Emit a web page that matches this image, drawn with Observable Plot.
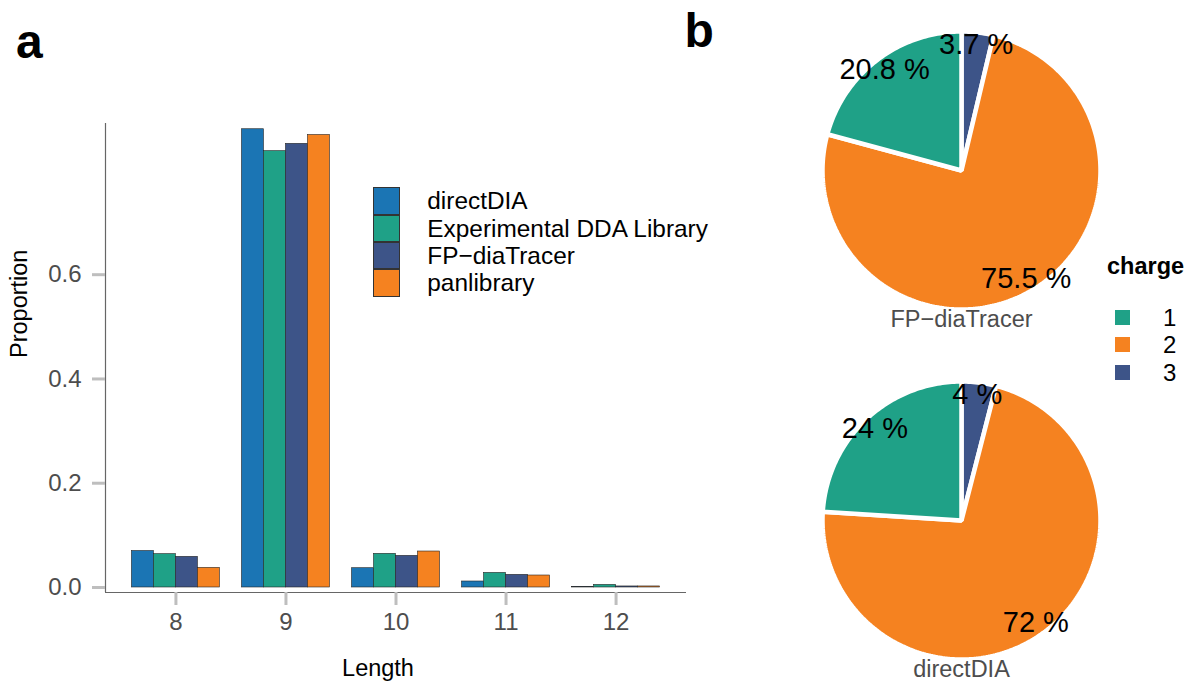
<!DOCTYPE html>
<html>
<head>
<meta charset="utf-8">
<script src="https://cdn.jsdelivr.net/npm/d3@7"></script>
<script src="https://cdn.jsdelivr.net/npm/@observablehq/plot@0.6"></script>
<style>
  html, body { margin: 0; padding: 0; background: #fff; }
  body { font-family: "Liberation Sans", Arial, sans-serif; }
  #root { position: relative; width: 1188px; height: 687px; overflow: hidden; background: #fff; }
  .abs { position: absolute; }
  .panel { font-weight: bold; font-size: 48px; line-height: 48px; color: #000; }
  .mleg-row { display: flex; align-items: center; height: 27.4px; }
  .mleg-key { width: 27px; height: 27.4px; box-sizing: border-box; border: 0.7px solid #333; }
  .mleg-text { font-size: 24.4px; line-height: 27.4px; margin-left: 27px; color: #000; white-space: nowrap; }
  .cleg-title { font-weight: bold; font-size: 23.5px; line-height: 27px; color: #000; }
  .cleg-row { display: flex; align-items: center; height: 27.6px; }
  .cleg-key { width: 15px; height: 15px; margin-left: 8px; }
  .cleg-text { font-size: 24px; line-height: 27.6px; margin-left: 33px; color: #000; }
</style>
</head>
<body>
<div id="root"></div>
<script>
// ---------- data ----------
const lengths = [8, 9, 10, 11, 12];
const methods = ["directDIA", "Experimental DDA Library", "FP−diaTracer", "panlibrary"];
const methodColors = ["#1b75b4", "#1fa187", "#3d5488", "#f58220"];
const directDIA = [0.070, 0.879, 0.037, 0.0115, 0.0013];
const experimentalDDA = [0.064, 0.837, 0.0646, 0.028, 0.005];
const fpDiaTracer = [0.0588, 0.851, 0.0607, 0.0243, 0.002];
const panlibrary = [0.0377, 0.868, 0.069, 0.023, 0.002];
const yTicks = [0, 0.2, 0.4, 0.6];

const charges = ["1", "2", "3"];
const chargeColors = ["#1fa187", "#f58220", "#3d5488"];
const fpCharge = [20.8, 75.5, 3.7];
const directCharge = [24, 72, 4];
const pieNames = ["FP−diaTracer", "directDIA"];

// ---------- build ----------
const root = document.getElementById("root");
const font = "'Liberation Sans', Arial, sans-serif";
const series = [directDIA, experimentalDDA, fpDiaTracer, panlibrary];
const rows = methods.flatMap((m, i) => series[i].map((v, j) => ({len: lengths[j], method: m, value: v})));
const dodge = d3.scaleBand(methods, [-0.4, 0.4]);
const xDomain = [7.36, 12.64];
const yDomain = [-0.0096, 0.89];

const barPlot = Plot.plot({
  width: 700, height: 687,
  marginLeft: 105, marginRight: 14, marginTop: 123, marginBottom: 95,
  style: {fontFamily: font, fontSize: "24px", background: "transparent", overflow: "visible"},
  x: {domain: xDomain},
  y: {domain: yDomain},
  color: {domain: methods, range: methodColors},
  marks: [
    Plot.rectY(rows, {
      x1: d => d.len + dodge(d.method),
      x2: d => d.len + dodge(d.method) + dodge.bandwidth(),
      y1: 0, y2: "value", fill: "method", stroke: "#262626", strokeWidth: 0.6
    }),
    Plot.ruleX([xDomain[0]], {stroke: "#666", strokeWidth: 1.2}),
    Plot.ruleY([yDomain[0]], {stroke: "#666", strokeWidth: 1.2}),
    Plot.axisX({ticks: lengths, tickFormat: "d", tickSize: 13, tickPadding: 7, stroke: "#bebebe", strokeWidth: 3, fill: "#4d4d4d", fontSize: 24, label: null}),
    Plot.axisY({ticks: yTicks, tickFormat: ".1f", tickSize: 13, tickPadding: 11, stroke: "#bebebe", strokeWidth: 3, fill: "#4d4d4d", fontSize: 24, label: null}),
    Plot.text(["Length"], {text: d => d, frameAnchor: "bottom", dx: -18, dy: 83, fontSize: 23.5, fill: "#000"}),
    Plot.text(["Proportion"], {text: d => d, frameAnchor: "left", rotate: -90, dx: -86, fontSize: 23.5, fill: "#000"})
  ]
});
barPlot.classList.add("abs");
barPlot.style.left = "0px"; barPlot.style.top = "0px";
root.appendChild(barPlot);

function piePlot(name, shares) {
  const slices = charges.map((c, i) => ({charge: c, share: shares[i]})).reverse();
  const arcs = d3.pie().sort(null).value(d => d.share)(slices);
  const outline = arcs.flatMap(a => {
    const n = Math.max(2, Math.ceil((a.endAngle - a.startAngle) / (Math.PI / 180)));
    const pts = [{charge: a.data.charge, x: 0, y: 0}];
    for (let k = 0; k <= n; k++) {
      const t = a.startAngle + (a.endAngle - a.startAngle) * k / n;
      pts.push({charge: a.data.charge, x: Math.sin(t), y: Math.cos(t)});
    }
    return pts;
  });
  const labels = arcs.map(a => {
    const t = (a.startAngle + a.endAngle) / 2;
    return {text: `${a.data.share} %`, x: 0.91 * Math.sin(t), y: 0.91 * Math.cos(t)};
  });
  return Plot.plot({
    width: 300, height: 329,
    marginLeft: 11, marginRight: 11, marginTop: 11, marginBottom: 40,
    style: {fontFamily: font, background: "transparent", overflow: "visible"},
    x: {domain: [-1, 1], axis: null},
    y: {domain: [-1, 1], axis: null},
    color: {domain: charges, range: chargeColors},
    marks: [
      Plot.line(outline, {x: "x", y: "y", z: "charge", fill: "charge", stroke: "white", strokeWidth: 4.5, curve: "linear-closed", strokeLinejoin: "miter"}),
      Plot.text(labels, {x: "x", y: "y", text: "text", fontSize: 29, fill: "#000"}),
      Plot.text([name], {text: d => d, frameAnchor: "bottom", dy: 17.5, fontSize: 23.5, fill: "#4d4d4d"})
    ]
  });
}

const pieTops = [19.5, 369.7];
[fpCharge, directCharge].forEach((shares, i) => {
  const p = piePlot(pieNames[i], shares);
  p.classList.add("abs");
  p.style.left = "810.5px"; p.style.top = pieTops[i] + "px";
  root.appendChild(p);
});

// panel letters
[["a", 16, 18.4], ["b", 684.6, 7.4]].forEach(([t, l, tp]) => {
  const d = document.createElement("div");
  d.className = "abs panel"; d.textContent = t;
  d.style.left = l + "px"; d.style.top = tp + "px";
  root.appendChild(d);
});

// method legend
const mleg = document.createElement("div");
mleg.className = "abs"; mleg.style.left = "373.3px"; mleg.style.top = "187.3px";
methods.forEach((m, i) => {
  const r = document.createElement("div"); r.className = "mleg-row";
  const k = document.createElement("div"); k.className = "mleg-key"; k.style.background = methodColors[i];
  const t = document.createElement("div"); t.className = "mleg-text"; t.textContent = m;
  r.appendChild(k); r.appendChild(t); mleg.appendChild(r);
});
root.appendChild(mleg);

// charge legend
const cleg = document.createElement("div");
cleg.className = "abs"; cleg.style.left = "1107px"; cleg.style.top = "253px";
const ct = document.createElement("div"); ct.className = "cleg-title"; ct.textContent = "charge";
ct.style.marginBottom = "23.5px";
cleg.appendChild(ct);
charges.forEach((c, i) => {
  const r = document.createElement("div"); r.className = "cleg-row";
  const k = document.createElement("div"); k.className = "cleg-key"; k.style.background = chargeColors[i];
  const t = document.createElement("div"); t.className = "cleg-text"; t.textContent = c;
  r.appendChild(k); r.appendChild(t); cleg.appendChild(r);
});
root.appendChild(cleg);
</script>
</body>
</html>
